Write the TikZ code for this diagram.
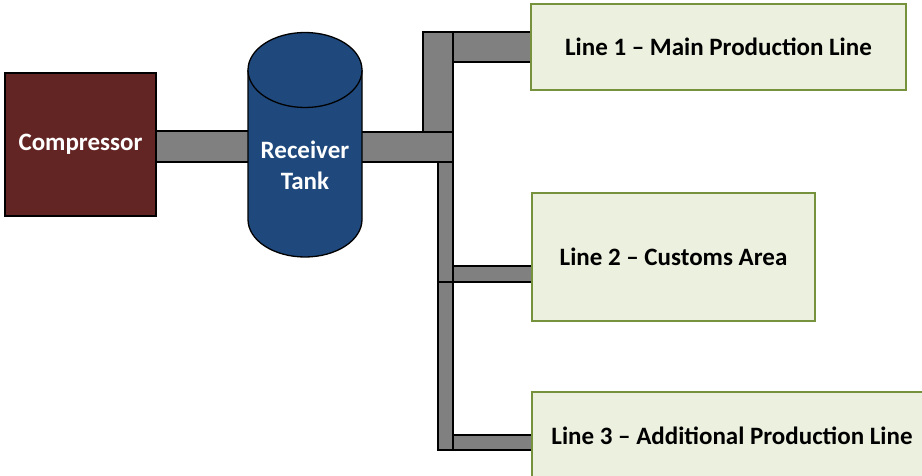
\documentclass[tikz,border=0pt]{standalone}
\usepackage{fontspec}
\setmainfont{Carlito}
\usetikzlibrary{positioning}

\definecolor{compred}{HTML}{632523}
\definecolor{tankblue}{HTML}{1F497D}
\definecolor{pipegray}{HTML}{808080}
\definecolor{linefill}{HTML}{EBF1DE}
\definecolor{linedraw}{HTML}{76923C}

\begin{document}
\begin{tikzpicture}[x=1pt, y=-1pt,
          pipe/.style={fill=pipegray, draw=black, line width=1.3pt},
          unit/.style={draw=black, line width=1.3pt, text=white, font=\bfseries\fontsize{25}{30}\selectfont},
          prodline/.style={draw=linedraw, fill=linefill, line width=1.5pt, font=\bfseries\fontsize{25}{30}\selectfont}
        ]
        \useasboundingbox (0,0) rectangle (922,476);
        \clip (0,0) rectangle (922,476);

        % tuberias
        \draw[pipe] (156,131) rectangle (250,162);
        \draw[pipe] (360,132) rectangle (453,162);
        \draw[pipe] (423,32) rectangle (453,132);
        \draw[pipe] (453,32) rectangle (532,62);
        \draw[pipe] (438,162) rectangle (453,282);
        \draw[pipe] (438,282) rectangle (453,450);
        \draw[pipe] (453,266) rectangle (533,282);
        \draw[pipe] (453,435) rectangle (533,450);

        % compresor
        \node[unit, fill=compred, minimum width=151, minimum height=143] (comp) at (80.5,144.5) {Compressor};

        % tanque pulmon
        \draw[fill=tankblue, line width=1.3pt] (248,70) -- (248,219.5)
              arc[start angle=180, end angle=360, x radius=57, y radius=-37.5]
              -- (362,70);
        \draw[fill=tankblue, line width=1.3pt] (305,70) ellipse[x radius=57, y radius=37.5];
        \node[unit, draw=none, align=center, font=\bfseries\fontsize{25}{31}\selectfont] (tank) at (305,165) {Receiver\\Tank};

        % lineas de produccion
        \node[prodline, minimum width=375, minimum height=86] (line1) at (718.5,47) {Line 1 -- Main Production Line};
        \node[prodline, minimum width=283, minimum height=128] (line2) at (673.5,257) {Line 2 -- Customs Area};
        \node[prodline, minimum width=400, minimum height=88] (line3) at (732,436) {Line 3 -- Additional Production Line};
      \end{tikzpicture}
\end{document}
